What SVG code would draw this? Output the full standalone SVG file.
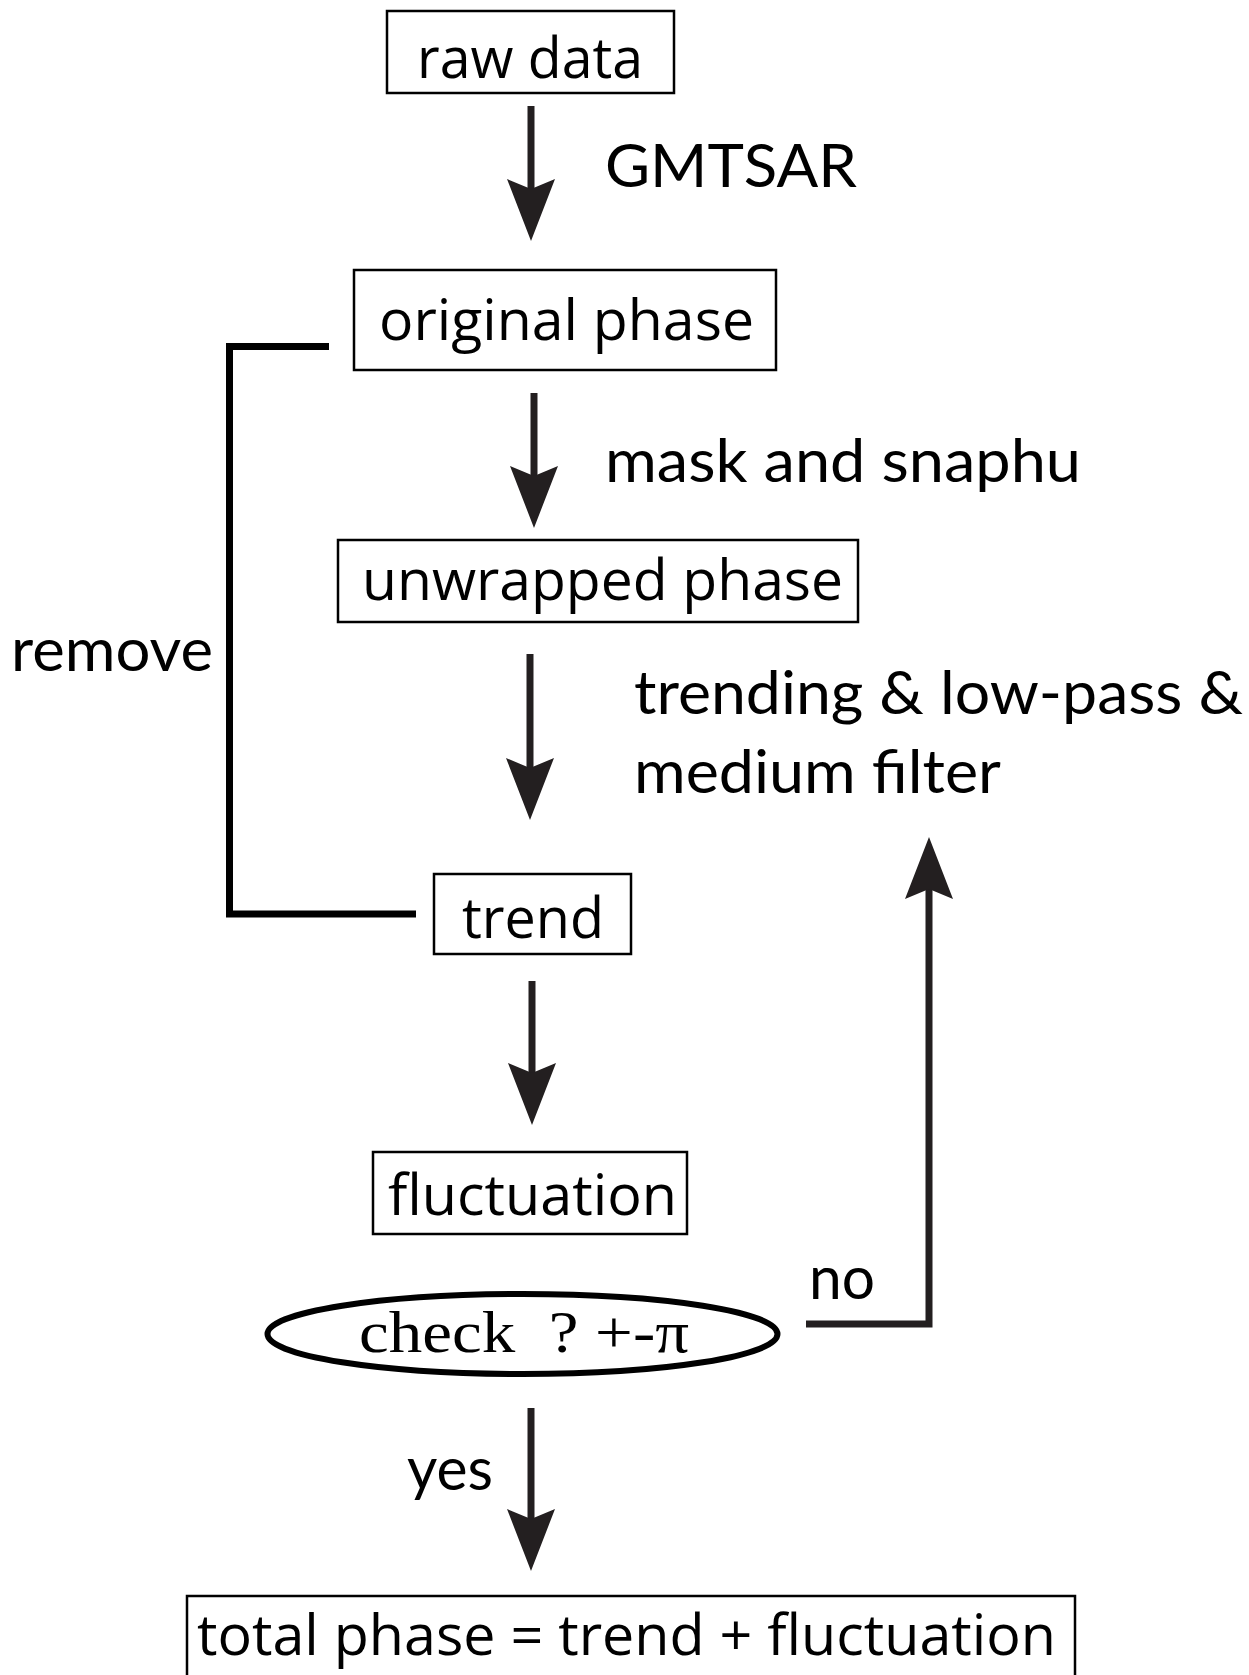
<svg xmlns="http://www.w3.org/2000/svg" width="1249" height="1675" viewBox="0 0 1249 1675">
  <style>
    .box { fill: #fff; stroke: #000; stroke-width: 2.5; }
    .btxt { font-family: "Open Sans", "Noto Sans", "DejaVu Sans", sans-serif; font-size: 57px; fill: #000; text-anchor: middle; }
    .lbl { font-family: Lato, "Open Sans", sans-serif; font-size: 60px; fill: #000; }
    .serif { font-family: "Liberation Serif", "Times New Roman", serif; font-size: 60px; fill: #000; }
    .flow { fill: none; stroke: #231f20; stroke-width: 7; }
    .bracket { fill: none; stroke: #000; stroke-width: 7; stroke-linejoin: miter; }
  </style>
  <defs>
    <marker id="head" viewBox="-14 -26 66 52" refX="0" refY="0" markerWidth="66" markerHeight="52" markerUnits="userSpaceOnUse" orient="auto">
      <path d="M50,0 L-12,-24 L-2,0 L-12,24 Z" fill="#231f20"/>
    </marker>
  </defs>

  <rect width="1249" height="1675" fill="#fff"/>

  <!-- connectors -->
  <g id="connectors">
    <line class="flow" x1="531" y1="106" x2="531" y2="191" marker-end="url(#head)"/>
    <line class="flow" x1="534" y1="393" x2="534" y2="478" marker-end="url(#head)"/>
    <line class="flow" x1="530" y1="654" x2="530" y2="770" marker-end="url(#head)"/>
    <line class="flow" x1="532" y1="981" x2="532" y2="1075" marker-end="url(#head)"/>
    <line class="flow" x1="531" y1="1408" x2="531" y2="1521" marker-end="url(#head)"/>
    <!-- "no" loop back up to the filtering step -->
    <polyline class="flow" points="806,1324 929,1324 929,887" marker-end="url(#head)"/>
    <!-- "remove" bracket between original phase and trend -->
    <polyline class="bracket" points="329,346.5 229.5,346.5 229.5,914 416,914"/>
    <text class="lbl" x="11" y="671" textLength="202" lengthAdjust="spacingAndGlyphs">remove</text>
    <text class="lbl" x="605" y="187" textLength="252" lengthAdjust="spacingAndGlyphs">GMTSAR</text>
    <text class="lbl" x="605" y="482" textLength="476" lengthAdjust="spacingAndGlyphs">mask and snaphu</text>
    <text class="lbl" x="634" y="714" textLength="609" lengthAdjust="spacingAndGlyphs">trending &amp; low-pass &amp;</text>
    <text class="lbl" x="634" y="793" textLength="367" lengthAdjust="spacingAndGlyphs">medium filter</text>
    <text class="lbl" x="809" y="1299" textLength="66" lengthAdjust="spacingAndGlyphs">no</text>
    <text class="lbl" x="407" y="1490" textLength="86" lengthAdjust="spacingAndGlyphs">yes</text>
  </g>

  <g id="raw-data">
    <rect class="box" x="387" y="11" width="287" height="82"/>
    <text class="btxt" x="530" y="78" textLength="226" lengthAdjust="spacingAndGlyphs">raw data</text>
  </g>

  <g id="original-phase">
    <rect class="box" x="354" y="270" width="422" height="100"/>
    <text class="btxt" x="566.5" y="340" textLength="375" lengthAdjust="spacingAndGlyphs">original phase</text>
  </g>

  <g id="unwrapped-phase">
    <rect class="box" x="338" y="540" width="520" height="82"/>
    <text class="btxt" x="602.5" y="600" textLength="481" lengthAdjust="spacingAndGlyphs">unwrapped phase</text>
  </g>

  <g id="trend">
    <rect class="box" x="434" y="874" width="197" height="80"/>
    <text class="btxt" x="533" y="938" textLength="142" lengthAdjust="spacingAndGlyphs">trend</text>
  </g>

  <g id="fluctuation">
    <rect class="box" x="373" y="1152" width="314" height="82"/>
    <text class="btxt" x="532.5" y="1215" textLength="289" lengthAdjust="spacingAndGlyphs">fluctuation</text>
  </g>

  <g id="check">
    <ellipse cx="522.5" cy="1334" rx="255" ry="40" fill="#fff" stroke="#000" stroke-width="6"/>
    <text class="serif" x="359" y="1352" xml:space="preserve" textLength="330" lengthAdjust="spacingAndGlyphs">check  ? +-π</text>
  </g>

  <g id="total-phase">
    <rect class="box" x="187" y="1596" width="888" height="90"/>
    <text class="btxt" x="626.5" y="1655" textLength="859" lengthAdjust="spacingAndGlyphs">total phase = trend + fluctuation</text>
  </g>
</svg>
